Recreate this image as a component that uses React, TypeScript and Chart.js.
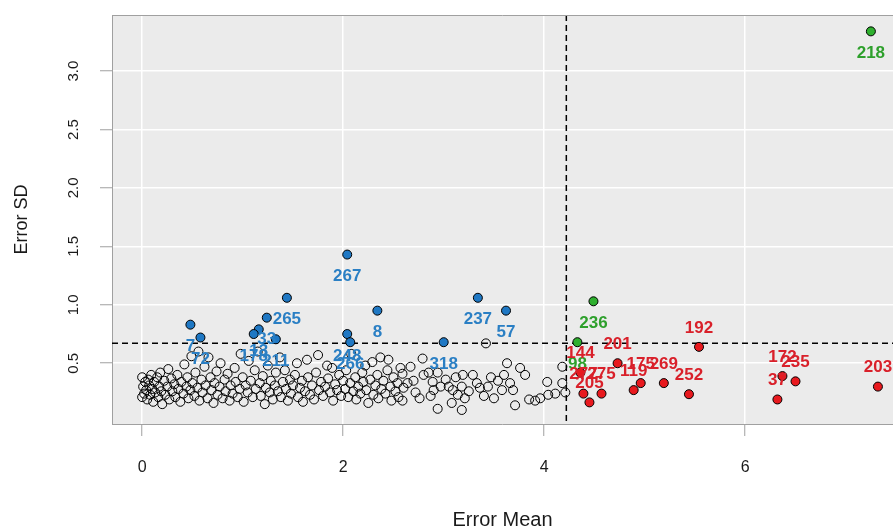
import { useEffect, useRef } from 'react';
import { Chart, registerables } from 'chart.js';

Chart.register(...registerables);

// ---- data ----
const xTicks = [0, 2, 4, 6];
const yTicks = [0.5, 1.0, 1.5, 2.0, 2.5, 3.0];
const meanCutoff = 4.22;
const sdCutoff = 0.67;

// [error mean, error SD, id]
const bluePoints: [number, number, string][] = [
  [2.04, 1.43, '267'],
  [1.44, 1.06, '265'],
  [2.34, 0.95, '8'],
  [3.34, 1.06, '237'],
  [3.62, 0.95, '57'],
  [0.48, 0.83, '7'],
  [0.58, 0.72, '72'],
  [1.24, 0.89, '33'],
  [1.16, 0.79, '13'],
  [1.11, 0.75, '178'],
  [1.33, 0.705, '211'],
  [2.04, 0.75, '248'],
  [2.07, 0.68, '266'],
  [3.0, 0.68, '318'],
];

const greenPoints: [number, number, string][] = [
  [7.25, 3.34, '218'],
  [4.49, 1.03, '236'],
  [4.33, 0.68, '98'],
];

const redPoints: [number, number, string][] = [
  [5.54, 0.64, '192'],
  [4.73, 0.5, '201'],
  [4.36, 0.42, '144'],
  [4.39, 0.24, '277'],
  [4.57, 0.24, '275'],
  [4.45, 0.165, '205'],
  [4.96, 0.33, '175'],
  [4.89, 0.27, '119'],
  [5.19, 0.33, '269'],
  [5.44, 0.235, '252'],
  [6.37, 0.39, '172'],
  [6.5, 0.345, '235'],
  [6.32, 0.19, '37'],
  [7.32, 0.3, '203'],
];

const blackPoints: [number, number][] = [
  [0.0, 0.38], [0.01, 0.3], [0.02, 0.24], [0.0, 0.21], [0.03, 0.34], [0.04, 0.27], [0.05, 0.19],
  [0.06, 0.36], [0.07, 0.31], [0.08, 0.23], [0.09, 0.4], [0.1, 0.28], [0.11, 0.17], [0.12, 0.34],
  [0.13, 0.25], [0.15, 0.38], [0.16, 0.21], [0.17, 0.3], [0.18, 0.42], [0.19, 0.26], [0.2, 0.15],
  [0.22, 0.35], [0.23, 0.23], [0.25, 0.3], [0.26, 0.45], [0.27, 0.19], [0.29, 0.37], [0.3, 0.26],
  [0.32, 0.32], [0.33, 0.21], [0.35, 0.4], [0.36, 0.28], [0.38, 0.17], [0.39, 0.34], [0.41, 0.24],
  [0.42, 0.49], [0.44, 0.3], [0.45, 0.38], [0.46, 0.2], [0.48, 0.27], [0.49, 0.56], [0.5, 0.33],
  [0.52, 0.22], [0.53, 0.42], [0.55, 0.29], [0.56, 0.6], [0.57, 0.18], [0.59, 0.36], [0.6, 0.25],
  [0.62, 0.47], [0.63, 0.31], [0.65, 0.2], [0.66, 0.55], [0.68, 0.38], [0.69, 0.27], [0.71, 0.16],
  [0.72, 0.33], [0.74, 0.43], [0.75, 0.23], [0.77, 0.3], [0.78, 0.5],
  [0.8, 0.2], [0.82, 0.36], [0.83, 0.26], [0.85, 0.41], [0.87, 0.18], [0.88, 0.31], [0.9, 0.24],
  [0.92, 0.46], [0.93, 0.34], [0.95, 0.21], [0.97, 0.28], [0.98, 0.58], [1.0, 0.38], [1.01, 0.17],
  [1.03, 0.31], [1.05, 0.25], [1.06, 0.52], [1.08, 0.35], [1.1, 0.21],
  [1.12, 0.44], [1.13, 0.28], [1.15, 0.6], [1.17, 0.33], [1.18, 0.22], [1.2, 0.39], [1.22, 0.15],
  [1.23, 0.29], [1.25, 0.48], [1.27, 0.25], [1.28, 0.35], [1.3, 0.19], [1.32, 0.31], [1.33, 0.42],
  [1.35, 0.26], [1.37, 0.55], [1.38, 0.21], [1.4, 0.34],
  [1.42, 0.44], [1.43, 0.28], [1.45, 0.18], [1.47, 0.36], [1.48, 0.24], [1.5, 0.31], [1.52, 0.4],
  [1.54, 0.5], [1.55, 0.21], [1.57, 0.29], [1.59, 0.35], [1.6, 0.17], [1.62, 0.26], [1.64, 0.53],
  [1.65, 0.38], [1.67, 0.23], [1.69, 0.31],
  [1.71, 0.19], [1.73, 0.42], [1.75, 0.57], [1.76, 0.27], [1.78, 0.34], [1.8, 0.22], [1.82, 0.3],
  [1.84, 0.48], [1.85, 0.37], [1.87, 0.25], [1.89, 0.46], [1.9, 0.18], [1.92, 0.32], [1.94, 0.27],
  [1.96, 0.4], [1.98, 0.22], [2.0, 0.35],
  [2.02, 0.28], [2.03, 0.44], [2.05, 0.21], [2.07, 0.33], [2.08, 0.58], [2.1, 0.26], [2.12, 0.38],
  [2.13, 0.19], [2.15, 0.3], [2.17, 0.24], [2.19, 0.42], [2.2, 0.34], [2.22, 0.48], [2.23, 0.27],
  [2.25, 0.16], [2.27, 0.36], [2.29, 0.51], [2.3, 0.23],
  [2.32, 0.31], [2.34, 0.4], [2.35, 0.2], [2.37, 0.55], [2.38, 0.28], [2.4, 0.35], [2.42, 0.24],
  [2.44, 0.44], [2.45, 0.53], [2.47, 0.3], [2.48, 0.18], [2.5, 0.38], [2.52, 0.26], [2.54, 0.33],
  [2.55, 0.21], [2.57, 0.46], [2.59, 0.41], [2.6, 0.29],
  [2.59, 0.18], [2.64, 0.33], [2.67, 0.47], [2.7, 0.35], [2.72, 0.25], [2.76, 0.2], [2.79, 0.54],
  [2.8, 0.4], [2.85, 0.42], [2.87, 0.22], [2.89, 0.34], [2.9, 0.27], [2.94, 0.42], [2.94, 0.11],
  [2.97, 0.3], [3.02, 0.36], [3.05, 0.3], [3.08, 0.16], [3.09, 0.27], [3.12, 0.38], [3.14, 0.23],
  [3.18, 0.3], [3.18, 0.1], [3.19, 0.4], [3.21, 0.2], [3.25, 0.26], [3.29, 0.4], [3.33, 0.33],
  [3.36, 0.29], [3.4, 0.22], [3.42, 0.67], [3.44, 0.3], [3.47, 0.38], [3.5, 0.2], [3.54, 0.35],
  [3.58, 0.27], [3.6, 0.4], [3.63, 0.5], [3.66, 0.33], [3.69, 0.27], [3.71, 0.14], [3.76, 0.46],
  [3.81, 0.4], [3.85, 0.19], [3.91, 0.18], [3.96, 0.2], [4.03, 0.34], [4.04, 0.23], [4.11, 0.24],
  [4.18, 0.47], [4.18, 0.33], [4.21, 0.25],
];

// ---- styling ----
const BLUE = '#1f78c4';
const BLUE_TEXT = '#2a7fc4';
const GREEN = '#2fb02f';
const GREEN_TEXT = '#2ea02c';
const RED = '#e8191e';
const RED_TEXT = '#d9202a';
const PANEL = '#ebebeb';
const FRAME = '#a0a0a0';
const FONT = '"Liberation Sans", Arial, sans-serif';

const toXY = (arr: [number, number, ...unknown[]][]) => arr.map((p) => ({ x: p[0], y: p[1] }));

export default function App() {
  const ref = useRef<HTMLCanvasElement>(null);

  useEffect(() => {
    const labelSets: { idx: number; labels: string[]; color: string; dy: number }[] = [
      { idx: 0, labels: bluePoints.map((p) => p[2]), color: BLUE_TEXT, dy: 22 },
      { idx: 1, labels: greenPoints.map((p) => p[2]), color: GREEN_TEXT, dy: 22 },
      { idx: 2, labels: redPoints.map((p) => p[2]), color: RED_TEXT, dy: -19 },
    ];

    const panelPlugin = {
      id: 'panel',
      beforeDraw(chart: any) {
        const { ctx, chartArea: a } = chart;
        ctx.save();
        ctx.fillStyle = PANEL;
        ctx.fillRect(a.left, a.top, a.right - a.left, a.bottom - a.top);
        ctx.restore();
      },
      afterDraw(chart: any) {
        const { ctx, chartArea: a } = chart;
        ctx.save();
        ctx.strokeStyle = FRAME;
        ctx.lineWidth = 1;
        ctx.beginPath();
        ctx.moveTo(a.left, a.top + 0.5);
        ctx.lineTo(a.right, a.top + 0.5);
        ctx.stroke();
        ctx.restore();
      },
    };

    const cutoffPlugin = {
      id: 'cutoffs',
      beforeDatasetsDraw(chart: any) {
        const { ctx, chartArea: a, scales } = chart;
        const px = scales.x.getPixelForValue(meanCutoff);
        const py = scales.y.getPixelForValue(sdCutoff);
        ctx.save();
        ctx.strokeStyle = '#000';
        ctx.lineWidth = 1.5;
        ctx.setLineDash([6, 4]);
        ctx.beginPath();
        ctx.moveTo(px, a.top);
        ctx.lineTo(px, a.bottom);
        ctx.moveTo(a.left, py);
        ctx.lineTo(a.right, py);
        ctx.stroke();
        ctx.restore();
      },
    };

    const labelPlugin = {
      id: 'pointLabels',
      afterDatasetsDraw(chart: any) {
        const { ctx } = chart;
        ctx.save();
        ctx.font = 'bold 17px ' + FONT;
        ctx.textAlign = 'center';
        ctx.textBaseline = 'middle';
        labelSets.forEach((set) => {
          const meta = chart.getDatasetMeta(set.idx);
          ctx.fillStyle = set.color;
          meta.data.forEach((el: any, i: number) => {
            ctx.fillText(set.labels[i], el.x, el.y + set.dy);
          });
        });
        ctx.restore();
      },
    };

    const gridCommon = {
      color: '#ffffff',
      lineWidth: 1.5,
      drawTicks: true,
      tickLength: 12,
      tickColor: FRAME,
      tickWidth: 1,
    };

    const chart = new Chart(ref.current as HTMLCanvasElement, {
      type: 'scatter',
      data: {
        datasets: [
          {
            data: toXY(bluePoints),
            pointRadius: 4.5,
            pointBackgroundColor: BLUE,
            pointBorderColor: '#000',
            pointBorderWidth: 1,
          },
          {
            data: toXY(greenPoints),
            pointRadius: 4.5,
            pointBackgroundColor: GREEN,
            pointBorderColor: '#000',
            pointBorderWidth: 1,
          },
          {
            data: toXY(redPoints),
            pointRadius: 4.5,
            pointBackgroundColor: RED,
            pointBorderColor: '#000',
            pointBorderWidth: 1,
          },
          {
            data: toXY(blackPoints),
            pointRadius: 4.5,
            pointBackgroundColor: 'rgba(0,0,0,0)',
            pointBorderColor: '#000',
            pointBorderWidth: 1,
          },
        ] as any,
      },
      options: {
        responsive: false,
        animation: false,
        devicePixelRatio: 1,
        layout: { autoPadding: false, padding: { top: 15, right: 0, left: 0, bottom: 0 } },
        plugins: {
          legend: { display: false },
          tooltip: { enabled: false },
        },
        scales: {
          x: {
            type: 'linear',
            min: -0.3,
            max: 7.47,
            afterBuildTicks: (s: any) => {
              s.ticks = xTicks.map((v) => ({ value: v }));
            },
            afterFit: (s: any) => {
              s.height = 103;
              s.paddingLeft = 0;
              s.paddingRight = 0;
              s.paddingTop = 0;
              s.paddingBottom = 0;
            },
            grid: gridCommon,
            border: { display: true, color: FRAME, width: 1 },
            ticks: {
              color: '#1a1a1a',
              font: { size: 16, family: FONT },
              padding: 22,
              autoSkip: false,
              maxRotation: 0,
              callback: (v: any) => String(v),
            },
            title: {
              display: true,
              text: 'Error Mean',
              color: '#1a1a1a',
              font: { size: 20, lineHeight: 1, family: FONT },
              padding: { top: 0, bottom: -3 },
            },
          },
          y: {
            type: 'linear',
            min: -0.02,
            max: 3.48,
            afterBuildTicks: (s: any) => {
              s.ticks = yTicks.map((v) => ({ value: v }));
            },
            afterFit: (s: any) => {
              s.width = 112;
              s.paddingLeft = 0;
              s.paddingRight = 0;
              s.paddingTop = 0;
              s.paddingBottom = 0;
            },
            grid: gridCommon,
            border: { display: true, color: FRAME, width: 1 },
            ticks: {
              color: '#1a1a1a',
              font: { size: 15, family: FONT },
              padding: 16,
              minRotation: 90,
              maxRotation: 90,
              crossAlign: 'center',
              autoSkip: false,
              callback: (v: any) => Number(v).toFixed(1),
            },
            title: {
              display: true,
              text: 'Error SD',
              color: '#1a1a1a',
              font: { size: 18, lineHeight: 1.2, family: FONT },
              padding: { top: 11, bottom: 0 },
            },
          },
        },
      } as any,
      plugins: [panelPlugin, cutoffPlugin, labelPlugin],
    });

    return () => chart.destroy();
  }, []);

  return (
    <div style={{ position: 'absolute', left: 0, top: 0, width: 893, height: 527, background: '#fff' }}>
      <canvas ref={ref} width={893} height={527} style={{ display: 'block' }} />
    </div>
  );
}
